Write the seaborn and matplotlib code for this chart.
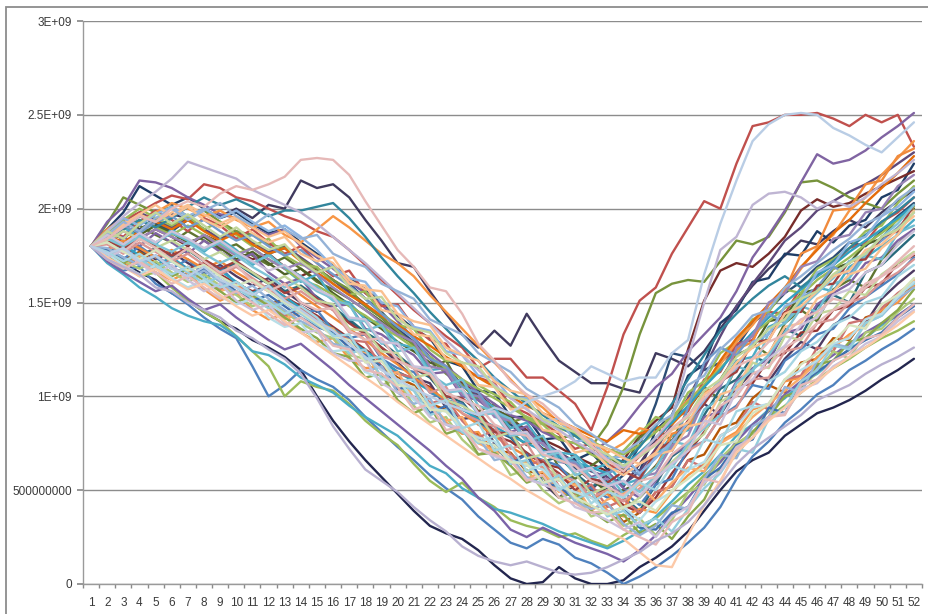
import pandas as pd
import matplotlib.pyplot as plt
import matplotlib.patches as mpatches
import seaborn as sns

# values in units of 1e8, weeks 1..52
weeks = list(range(1, 53))

red_top = [18.0, 18.6, 19.4, 19.8, 20.3, 20.7, 20.5, 21.3, 21.1, 20.6,
           20.4, 20.0, 19.6, 19.3, 18.8, 18.5, 17.8, 17.0, 16.2, 15.4,
           14.6, 13.9, 13.2, 12.6, 11.5, 12.0, 12.0, 11.0, 11.0, 10.3,
           9.6, 8.2, 10.5, 13.3, 15.1, 15.8, 17.6, 19.0, 20.4, 20.0,
           22.4, 24.4, 24.6, 25.0, 25.0, 25.1, 24.8, 24.4, 25.0, 24.6,
           25.0, 23.3]
lightblue_top = [18.0, 17.6, 17.9, 17.2, 17.5, 16.8, 16.4, 16.9, 16.2, 15.8,
                 15.4, 15.9, 15.1, 14.6, 14.0, 13.5, 12.8, 12.1, 11.4, 10.9,
                 10.4, 10.0, 9.6, 9.3, 9.0, 9.4, 9.1, 9.7, 10.0, 10.3,
                 10.8, 11.6, 11.2, 10.8, 11.0, 11.0, 12.3, 13.0, 16.5, 19.2,
                 21.5, 23.6, 24.5, 25.0, 25.1, 25.0, 24.3, 23.9, 23.4, 23.0,
                 23.8, 24.6]
olive = [18.0, 19.2, 20.6, 20.2, 19.8, 20.1, 19.6, 19.9, 19.3, 18.8,
         18.6, 18.1, 17.9, 17.3, 16.8, 16.2, 15.7, 14.8, 14.2, 13.5,
         12.7, 12.1, 11.2, 10.6, 9.8, 9.3, 8.6, 8.9, 8.2, 7.8,
         7.9, 7.3, 8.5, 10.5, 13.3, 15.5, 16.0, 16.2, 16.1, 17.2,
         18.3, 18.1, 18.5, 19.8, 21.4, 21.5, 21.1, 20.6, 20.3, 20.0,
         20.8, 21.5]
slate = [18.0, 18.7, 19.3, 18.9, 19.4, 19.7, 19.5, 19.9, 19.6, 20.0,
         19.5, 20.2, 20.0, 21.5, 21.1, 21.3, 20.6, 19.4, 18.3, 17.1,
         16.9, 15.6, 14.4, 13.3, 12.6, 13.5, 12.7, 14.4, 13.1, 11.9,
         11.3, 10.7, 10.7, 10.4, 10.2, 12.3, 12.0, 11.6, 12.4, 13.6,
         14.8, 15.9, 16.8, 17.5, 18.3, 18.1, 18.8, 19.4, 19.0, 19.8,
         20.4, 21.0]
navy_low = [18.0, 17.5, 17.1, 16.6, 16.2, 15.5, 15.1, 14.5, 14.0, 13.6,
            13.0, 12.6, 12.1, 11.4, 10.0, 8.7, 7.6, 6.6, 5.7, 4.8,
            3.9, 3.1, 2.7, 2.4, 1.8, 1.0, 0.3, 0.0, 0.1, 0.9,
            0.3, 0.0, 0.0, 0.2, 0.9, 1.4, 2.0, 2.8, 3.9, 5.0,
            6.0, 6.6, 7.0, 7.9, 8.5, 9.1, 9.4, 9.8, 10.3, 10.9,
            11.4, 12.0]
lavender_low = [18.0, 17.3, 16.9, 16.5, 15.8, 15.6, 15.0, 14.6, 14.2, 13.5,
                13.1, 12.5, 12.0, 11.2, 9.9, 8.4, 7.2, 6.1, 5.5, 4.9,
                4.1, 3.4, 2.8, 2.0, 1.5, 1.2, 1.0, 1.2, 0.9, 0.6,
                0.5, 0.6, 0.9, 1.3, 1.7, 2.3, 2.7, 3.3, 4.2, 5.3,
                6.4, 7.2, 7.8, 8.4, 9.0, 9.8, 10.2, 10.6, 11.2, 11.7,
                12.1, 12.6]
pink_top = [18.0, 18.4, 19.0, 19.6, 19.3, 20.0, 20.4, 20.1, 20.8, 21.2,
            21.0, 21.3, 21.7, 22.6, 22.7, 22.6, 21.8, 20.4, 19.1, 17.8,
            16.9, 15.8, 15.6, 14.4, 12.8, 11.9, 10.8, 10.1, 9.6, 8.8,
            8.2, 7.4, 6.6, 6.0, 6.9, 7.5, 8.3, 9.0, 9.9, 10.7,
            11.6, 12.0, 12.9, 13.3, 14.1, 14.5, 15.2, 15.0, 15.8, 16.4,
            16.9, 17.6]
purple_top = [18.0, 19.3, 20.1, 21.5, 21.4, 21.1, 20.6, 20.2, 19.7, 19.5,
              19.0, 18.6, 18.9, 18.0, 17.4, 16.8, 16.1, 15.5, 14.9, 14.0,
              13.1, 12.3, 11.6, 10.9, 10.2, 9.6, 9.0, 8.7, 8.1, 7.7,
              7.5, 7.0, 7.6, 8.4, 9.5, 10.5, 11.2, 12.4, 13.3, 14.2,
              15.6, 17.4, 18.6, 19.9, 21.4, 22.9, 22.4, 22.6, 23.1, 23.8,
              24.4, 25.1]
blue_low = [18.0, 17.4, 16.7, 16.9, 16.0, 15.5, 14.9, 14.2, 13.6, 13.1,
            11.6, 10.0, 10.6, 11.4, 10.9, 10.5, 9.8, 8.9, 8.1, 7.3,
            6.6, 5.8, 5.1, 4.5, 3.6, 2.9, 2.2, 1.9, 2.4, 2.1,
            1.4, 1.1, 0.6, 0.0, 0.4, 0.9, 1.5, 2.2, 3.0, 4.1,
            5.6, 6.8, 7.6, 8.6, 9.3, 10.1, 10.6, 11.4, 11.9, 12.5,
            13.0, 13.6]
green_low = [18.0, 17.7, 17.0, 16.4, 16.6, 15.8, 15.1, 14.5, 14.0, 13.2,
             12.4, 11.6, 10.0, 10.8, 10.5, 10.3, 9.6, 8.7, 8.0, 7.4,
             6.4, 5.5, 4.9, 5.4, 4.6, 4.1, 3.4, 3.1, 2.9, 2.5,
             2.7, 2.3, 2.0, 2.6, 3.1, 3.5, 4.2, 4.9, 5.8, 6.5,
             7.4, 8.1, 8.9, 9.5, 10.2, 10.9, 11.5, 12.0, 12.6, 13.1,
             13.5, 14.0]
cyan_low = [18.0, 17.1, 16.5, 15.8, 15.3, 14.7, 14.3, 14.0, 13.8, 13.2,
            12.4, 12.2, 11.7, 11.0, 10.6, 10.2, 9.5, 8.9, 8.4, 7.9,
            7.1, 6.3, 5.9, 5.1, 4.6, 4.0, 3.8, 3.5, 3.2, 2.8,
            2.5, 2.2, 1.9, 2.3, 2.8, 3.6, 4.4, 5.3, 6.0, 6.9,
            7.9, 8.5, 9.3, 9.9, 10.7, 11.2, 11.9, 12.5, 13.1, 13.8,
            14.3, 14.9]
purple_low = [18.0, 17.2, 16.6, 16.1, 15.6, 15.9, 15.2, 14.6, 14.9, 14.2,
              13.6, 13.0, 12.5, 12.8, 12.1, 11.4, 10.6, 9.9, 9.2, 8.5,
              7.8, 7.1, 6.3, 5.6, 4.6, 3.9, 2.9, 2.5, 3.0, 2.6,
              2.2, 1.9, 1.6, 1.2, 1.8, 2.6, 3.7, 4.6, 5.6, 6.5,
              7.6, 8.5, 9.2, 10.1, 10.8, 11.6, 12.2, 12.8, 13.4, 13.9,
              14.3, 14.9]

c01 = [18.0, 18.9, 19.5, 19.2, 19.8, 20.3, 20.0, 19.6, 19.9, 19.4,
       19.0, 19.3, 18.6, 18.2, 18.9, 19.6, 19.0, 18.3, 17.6, 17.1,
       16.4, 15.4, 14.5, 13.6, 12.7, 11.8, 10.9, 10.0, 9.4, 8.6,
       8.1, 7.7, 7.0, 7.5, 8.3, 8.1, 8.9, 9.8, 10.6, 11.7,
       12.9, 13.8, 14.9, 15.6, 16.8, 17.9, 18.6, 19.9, 20.6, 21.8,
       22.7, 23.6]
c02 = [18.0, 18.5, 19.0, 19.6, 19.2, 18.8, 19.4, 18.9, 18.4, 18.7,
       18.1, 17.6, 17.9, 17.3, 16.6, 16.9, 16.0, 15.2, 14.5, 13.6,
       12.9, 12.1, 11.4, 10.6, 9.9, 9.1, 8.5, 7.8, 7.2, 6.6,
       6.2, 5.5, 5.1, 5.8, 7.4, 9.6, 12.3, 12.1, 11.4, 11.8,
       12.6, 13.9, 14.6, 15.5, 16.1, 16.9, 17.4, 18.2, 18.0, 18.8,
       19.6, 20.3]
c03 = [18.0, 18.3, 17.8, 18.4, 18.9, 18.5, 18.0, 18.6, 18.2, 17.7,
       17.3, 17.6, 16.9, 16.4, 16.8, 16.2, 15.6, 14.9, 14.2, 13.4,
       12.8, 12.0, 11.3, 10.7, 10.1, 9.4, 8.8, 8.2, 7.7, 7.3,
       6.8, 6.4, 6.0, 6.6, 7.9, 8.7, 9.4, 12.5, 15.1, 16.7,
       17.1, 16.9, 17.6, 18.5, 19.9, 20.5, 20.1, 20.3, 20.8, 21.2,
       21.6, 22.0]
c04 = [18.0, 18.7, 18.4, 19.1, 18.6, 18.2, 18.8, 18.3, 17.8, 18.1,
       17.5, 17.0, 17.4, 16.8, 16.1, 15.7, 15.2, 14.6, 14.0, 13.3,
       12.8, 11.5, 11.9, 10.4, 9.2, 9.6, 8.1, 7.4, 7.8, 6.2,
       5.6, 6.3, 6.9, 6.1, 7.8, 8.4, 7.6, 9.3, 10.5, 9.8,
       11.6, 12.8, 12.2, 13.9, 14.6, 14.0, 15.7, 16.2, 15.8, 17.3,
       18.1, 18.9]
c05 = [18.0, 17.6, 18.2, 17.8, 17.3, 17.7, 17.1, 16.6, 17.0, 16.4,
       15.9, 16.3, 15.6, 15.0, 14.5, 14.8, 14.0, 13.3, 12.6, 11.8,
       11.0, 10.7, 9.4, 8.8, 8.9, 7.5, 6.6, 6.9, 5.4, 4.6,
       5.3, 5.0, 5.9, 5.2, 6.4, 7.7, 7.1, 8.5, 9.6, 9.0,
       10.4, 11.3, 10.8, 12.0, 12.9, 12.5, 13.8, 14.3, 13.9, 15.2,
       16.0, 16.7]
c06 = [18.0, 18.4, 18.0, 17.5, 17.9, 17.4, 17.8, 17.2, 16.7, 17.1,
       16.5, 16.0, 15.6, 15.9, 15.3, 14.7, 14.1, 13.4, 12.9, 12.2,
       11.5, 11.0, 10.0, 9.7, 8.6, 8.2, 7.8, 6.9, 6.5, 6.8,
       5.9, 5.2, 5.5, 4.6, 3.9, 5.3, 6.8, 7.4, 9.0, 10.4,
       10.9, 12.1, 11.8, 13.6, 13.2, 14.8, 15.4, 15.0, 16.6, 17.0,
       17.8, 18.6]
c07 = [18.0, 17.8, 17.3, 17.7, 17.1, 16.5, 16.9, 16.3, 15.8, 16.1,
       15.5, 14.9, 15.2, 14.6, 14.0, 13.5, 12.9, 12.3, 11.6, 11.0,
       10.6, 9.6, 9.3, 8.2, 8.0, 7.1, 7.0, 6.0, 5.9, 5.0,
       4.9, 4.0, 4.3, 3.3, 3.8, 4.9, 5.2, 6.6, 6.9, 8.3,
       8.6, 9.9, 10.6, 10.2, 11.8, 12.0, 13.1, 13.0, 14.2, 14.5,
       15.4, 15.9]
c08 = [18.0, 18.6, 19.1, 18.7, 19.3, 19.6, 19.0, 19.4, 18.8, 18.3,
       18.6, 18.0, 17.5, 17.8, 17.1, 16.5, 15.9, 15.2, 14.4, 13.7,
       13.1, 12.0, 11.6, 10.5, 10.2, 9.0, 8.8, 7.7, 7.5, 6.6,
       6.5, 5.6, 5.9, 6.3, 5.8, 6.9, 7.2, 9.4, 11.8, 12.6,
       12.2, 13.3, 14.4, 13.9, 15.2, 15.8, 16.9, 16.5, 17.6, 18.3,
       19.0, 19.8]
c09 = [18.0, 17.4, 17.9, 17.2, 16.8, 17.3, 16.7, 16.2, 15.7, 16.0,
       15.4, 14.8, 14.3, 14.7, 14.1, 13.5, 13.0, 12.9, 11.6, 11.2,
       11.0, 9.6, 9.9, 8.7, 7.8, 8.2, 6.9, 6.3, 6.6, 5.2,
       4.8, 5.3, 4.1, 4.5, 3.8, 4.9, 5.2, 6.6, 6.2, 7.9,
       8.4, 9.7, 9.3, 10.9, 11.1, 12.6, 12.4, 13.9, 14.1, 14.7,
       15.5, 16.1]
c10 = [18.0, 17.7, 17.2, 16.8, 17.2, 16.6, 16.1, 16.5, 15.9, 15.4,
       14.8, 15.1, 14.5, 13.9, 13.4, 13.1, 12.2, 12.0, 10.6, 10.9,
       9.5, 8.6, 8.9, 7.7, 6.9, 7.2, 5.8, 6.1, 5.0, 4.3,
       4.7, 3.6, 3.9, 3.1, 3.5, 2.6, 3.4, 4.9, 5.3, 6.7,
       7.5, 8.0, 9.3, 9.1, 10.4, 11.3, 12.4, 12.0, 13.4, 13.6,
       14.5, 15.2]
c11 = [18.0, 18.2, 18.8, 18.4, 18.9, 18.5, 18.1, 18.6, 18.0, 17.5,
       17.9, 17.3, 16.8, 17.1, 16.5, 15.8, 15.2, 14.6, 13.9, 13.3,
       12.9, 11.6, 11.4, 10.1, 10.0, 8.9, 8.7, 7.6, 7.5, 6.5,
       6.4, 5.5, 5.6, 4.6, 5.7, 5.9, 7.4, 7.9, 9.8, 10.5,
       12.6, 13.2, 15.0, 15.5, 16.9, 17.2, 18.4, 18.6, 19.8, 20.0,
       21.2, 21.8]
c12 = [18.0, 18.5, 18.1, 18.6, 18.2, 18.7, 18.3, 17.8, 18.2, 17.6,
       17.1, 17.5, 16.9, 16.4, 15.8, 15.1, 14.9, 13.5, 13.8, 12.4,
       12.6, 11.2, 10.6, 10.9, 9.5, 9.2, 8.8, 7.6, 7.9, 6.5,
       6.8, 5.6, 5.9, 4.8, 5.5, 6.2, 7.6, 7.4, 9.3, 9.9,
       11.6, 11.3, 13.4, 13.9, 14.8, 14.5, 16.0, 16.3, 17.5, 17.3,
       18.7, 19.1]
c13 = [18.0, 17.6, 17.1, 17.5, 16.9, 16.4, 16.8, 16.2, 15.6, 15.9,
       15.3, 14.7, 14.1, 14.5, 13.9, 13.6, 12.5, 12.3, 11.0, 11.3,
       9.9, 9.6, 8.7, 8.9, 7.5, 7.1, 6.8, 5.6, 6.0, 4.9,
       5.3, 3.9, 4.5, 4.8, 5.3, 4.4, 5.4, 6.2, 6.0, 7.5,
       8.0, 8.9, 9.6, 10.3, 11.0, 11.8, 12.7, 13.2, 13.9, 14.4,
       15.3, 16.2]
c14 = [18.0, 17.9, 17.4, 17.0, 17.5, 16.9, 16.3, 16.7, 16.1, 15.5,
       15.9, 15.2, 14.6, 14.0, 13.6, 12.8, 12.6, 11.3, 11.6, 10.2,
       9.6, 9.9, 8.5, 8.1, 7.8, 6.6, 6.8, 5.7, 5.3, 5.6,
       4.4, 4.0, 4.3, 3.2, 2.6, 3.1, 4.2, 4.0, 5.6, 6.9,
       6.7, 8.4, 8.9, 10.5, 10.2, 11.9, 12.8, 12.6, 13.9, 14.3,
       15.2, 15.8]
c15 = [18.0, 18.1, 17.6, 18.2, 17.7, 17.2, 17.6, 17.0, 16.5, 16.9,
       16.3, 15.7, 15.2, 15.6, 15.0, 14.6, 13.4, 13.3, 12.1, 11.9,
       11.5, 10.2, 10.5, 9.1, 8.7, 8.4, 7.2, 7.5, 6.1, 5.8,
       5.5, 4.6, 5.0, 4.4, 5.1, 5.6, 6.4, 7.1, 7.6, 8.9,
       9.4, 10.9, 11.0, 12.4, 12.6, 13.9, 14.1, 15.0, 15.3, 16.1,
       16.6, 17.3]
c16 = [18.0, 18.3, 18.8, 18.4, 17.9, 18.3, 17.8, 17.3, 17.7, 17.1,
       16.6, 16.0, 16.4, 15.8, 15.1, 14.9, 13.6, 13.5, 12.4, 12.3,
       11.0, 11.2, 9.8, 9.5, 9.0, 7.8, 8.1, 6.7, 6.9, 5.5,
       5.9, 4.8, 5.2, 4.0, 4.6, 5.7, 6.5, 7.3, 8.0, 9.7,
       10.2, 11.8, 11.5, 13.2, 13.0, 14.4, 14.6, 15.6, 15.4, 16.5,
       17.1, 17.7]
c17 = [18.0, 17.5, 17.9, 17.3, 16.8, 17.2, 16.6, 16.0, 16.4, 15.8,
       15.2, 14.7, 15.0, 14.4, 13.8, 13.3, 12.3, 12.5, 11.0, 10.7,
       10.3, 9.0, 9.3, 8.1, 7.5, 7.9, 6.4, 6.6, 5.3, 5.8,
       4.5, 4.9, 3.6, 3.9, 3.1, 3.5, 2.8, 4.0, 5.1, 5.9,
       7.2, 7.0, 8.8, 9.4, 10.8, 11.4, 12.7, 12.5, 13.9, 14.3,
       15.4, 16.0]
c18 = [18.0, 18.6, 19.2, 19.7, 19.3, 19.8, 20.2, 19.7, 19.2, 19.6,
       19.0, 18.5, 18.8, 18.1, 17.5, 17.1, 16.0, 15.9, 14.6, 14.4,
       13.3, 13.2, 12.0, 11.8, 10.6, 10.5, 9.3, 9.4, 8.2, 8.1,
       7.0, 7.2, 6.3, 5.8, 6.4, 6.9, 7.1, 8.4, 8.6, 10.1,
       10.4, 12.0, 12.3, 13.7, 13.9, 15.2, 15.6, 16.5, 16.8, 17.9,
       18.6, 19.9]
c19 = [18.0, 18.8, 19.6, 20.3, 20.9, 21.6, 22.5, 22.2, 21.9, 21.6,
       21.0, 20.6, 20.2, 19.8, 19.2, 18.5, 17.8, 17.1, 16.3, 15.5,
       14.7, 13.9, 13.0, 12.2, 11.4, 10.6, 9.9, 9.3, 8.7, 8.2,
       7.6, 7.1, 6.6, 6.2, 6.9, 7.8, 8.8, 12.0, 15.0, 17.8,
       18.5, 20.2, 20.8, 20.9, 20.6, 20.0, 20.4, 20.1, 20.6, 21.3,
       21.9, 22.6]
c20 = [18.0, 18.4, 18.0, 18.5, 18.1, 17.7, 18.2, 17.6, 17.1, 17.5,
       16.9, 16.4, 15.8, 16.2, 15.6, 15.2, 14.1, 14.0, 12.8, 12.9,
       11.5, 11.4, 10.2, 10.3, 9.0, 9.1, 7.9, 8.0, 6.8, 7.0,
       5.8, 6.1, 5.3, 5.5, 4.9, 5.8, 6.2, 7.5, 8.3, 9.0,
       10.7, 11.4, 12.2, 13.4, 14.7, 15.5, 16.3, 17.2, 17.6, 18.5,
       19.2, 20.2]
c21 = [18.0, 18.9, 19.8, 21.2, 20.7, 20.2, 20.6, 20.0, 19.5, 19.8,
       19.2, 18.7, 18.9, 18.2, 17.6, 17.0, 16.3, 15.7, 15.0, 14.3,
       13.6, 13.1, 11.9, 11.6, 10.3, 10.2, 8.9, 8.9, 7.7, 7.8,
       6.6, 7.0, 6.1, 6.6, 6.0, 8.2, 9.0, 11.1, 11.7, 13.9,
       14.6, 16.1, 16.3, 17.6, 17.5, 18.8, 18.2, 19.1, 19.4, 20.6,
       21.0, 22.4]
c22 = [18.0, 17.6, 17.9, 17.4, 17.8, 17.2, 16.8, 17.1, 16.5, 16.0,
       15.6, 15.9, 15.3, 14.8, 14.3, 13.7, 13.1, 12.5, 11.9, 11.3,
       10.9, 10.5, 9.6, 9.3, 8.9, 7.9, 7.6, 7.0, 6.4, 6.2,
       5.4, 5.0, 4.9, 4.2, 3.8, 4.6, 5.9, 7.0, 8.1, 9.3,
       10.5, 10.7, 12.0, 12.3, 13.4, 13.5, 14.6, 14.8, 15.8, 16.0,
       17.1, 17.5]
c23 = [18.0, 18.5, 19.0, 18.6, 19.1, 18.7, 18.2, 18.5, 17.9, 17.3,
       17.7, 17.1, 16.5, 16.8, 16.2, 15.5, 14.9, 14.2, 13.6, 12.9,
       12.4, 11.8, 11.5, 10.6, 9.8, 9.3, 8.9, 8.0, 7.2, 7.0,
       6.5, 5.6, 4.9, 5.0, 5.4, 6.3, 7.4, 8.5, 9.8, 10.9,
       12.2, 12.6, 14.0, 14.2, 15.5, 15.7, 16.8, 17.1, 18.1, 18.4,
       19.5, 20.0]
c24 = [18.0, 17.8, 18.3, 17.9, 17.4, 17.8, 17.3, 16.8, 17.2, 16.6,
       16.1, 15.6, 16.0, 15.4, 14.8, 14.2, 13.6, 13.0, 12.3, 11.7,
       11.0, 10.4, 9.8, 9.1, 8.5, 7.9, 7.3, 6.8, 6.2, 5.7,
       5.3, 4.6, 4.8, 4.0, 5.5, 6.2, 8.0, 8.3, 10.2, 10.6,
       12.5, 12.9, 14.9, 15.6, 17.6, 18.0, 19.9, 20.0, 21.3, 21.5,
       22.8, 23.2]
c25 = [18.0, 17.3, 16.8, 17.2, 16.6, 16.0, 16.4, 15.8, 15.2, 15.6,
       15.0, 14.4, 13.8, 14.2, 13.6, 12.7, 12.5, 11.4, 11.2, 10.5,
       9.3, 9.6, 8.2, 8.4, 7.2, 6.9, 6.6, 5.5, 5.8, 4.6,
       4.3, 3.8, 3.9, 2.9, 2.5, 2.1, 3.3, 3.8, 5.6, 5.4,
       7.2, 7.8, 8.9, 9.0, 10.6, 10.9, 11.9, 12.3, 13.1, 13.3,
       14.2, 14.9]
c26 = [18.0, 18.2, 17.7, 17.3, 17.8, 17.2, 16.7, 17.0, 16.4, 15.9,
       16.2, 15.6, 15.0, 14.5, 13.9, 13.2, 13.0, 11.8, 11.9, 10.6,
       10.5, 9.3, 9.2, 8.4, 7.6, 7.4, 6.5, 6.4, 5.4, 5.6,
       4.6, 4.2, 3.7, 4.1, 4.4, 3.9, 5.0, 5.6, 6.3, 7.4,
       7.6, 9.1, 9.6, 10.9, 11.7, 12.3, 12.9, 13.8, 13.6, 14.9,
       15.4, 16.3]
c27 = [18.0, 18.6, 18.1, 18.7, 18.2, 18.8, 18.4, 17.9, 18.3, 17.7,
       17.2, 16.7, 17.0, 16.3, 15.7, 15.3, 14.2, 14.1, 12.9, 12.8,
       11.6, 11.5, 10.3, 10.4, 9.1, 9.2, 8.0, 8.1, 7.0, 7.1,
       6.0, 6.2, 5.2, 5.5, 4.7, 5.6, 6.4, 7.1, 8.7, 8.5,
       10.3, 10.9, 12.0, 12.7, 13.8, 14.2, 15.4, 15.7, 16.6, 17.0,
       18.1, 18.8]
c28 = [18.0, 17.7, 17.2, 17.6, 17.0, 16.5, 16.9, 16.3, 15.8, 16.1,
       15.5, 15.0, 14.4, 14.8, 14.2, 13.2, 13.3, 12.0, 12.1, 10.8,
       10.9, 9.5, 9.8, 8.3, 8.6, 7.1, 7.4, 6.0, 6.4, 5.0,
       5.5, 4.3, 4.9, 4.6, 5.4, 5.0, 6.3, 6.0, 7.7, 7.5,
       9.2, 9.5, 10.8, 11.3, 12.4, 12.9, 13.8, 14.2, 15.0, 15.3,
       16.4, 17.0]
c29 = [18.0, 17.4, 16.9, 16.4, 16.8, 16.2, 15.7, 16.0, 15.4, 14.8,
       14.3, 14.6, 14.0, 13.4, 12.8, 12.2, 11.6, 11.0, 10.4, 9.7,
       9.1, 8.5, 7.9, 7.3, 6.7, 6.1, 5.6, 5.0, 4.5, 4.0,
       3.6, 3.2, 2.8, 2.4, 1.7, 1.0, 0.9, 2.6, 4.2, 5.5,
       7.0, 7.8, 8.7, 9.4, 10.2, 10.8, 11.5, 12.1, 12.6, 13.2,
       13.8, 14.5]
c30 = [18.0, 18.8, 19.5, 19.1, 19.7, 20.1, 19.6, 20.0, 19.5, 19.9,
       19.3, 18.8, 19.1, 18.5, 17.8, 16.9, 16.3, 16.1, 15.0, 14.8,
       13.7, 13.5, 12.4, 12.2, 11.1, 11.0, 9.9, 9.9, 8.7, 8.8,
       7.6, 7.7, 6.7, 6.8, 5.9, 6.7, 7.6, 8.6, 9.8, 10.9,
       11.5, 12.9, 13.3, 14.8, 15.2, 16.6, 17.0, 18.2, 18.5, 19.6,
       20.1, 20.9]
c31 = [18.0, 18.4, 18.9, 19.4, 19.0, 19.5, 20.1, 20.6, 20.2, 20.5,
       20.1, 19.6, 19.9, 19.9, 20.1, 20.3, 19.5, 18.5, 17.4, 16.4,
       15.5, 14.5, 13.6, 12.7, 11.9, 11.0, 10.3, 9.6, 9.0, 8.4,
       7.9, 7.3, 6.8, 6.5, 7.3, 8.4, 9.6, 10.9, 12.2, 13.5,
       14.4, 15.2, 15.9, 16.4, 15.8, 16.5, 17.2, 17.9, 18.6, 19.3,
       19.9, 20.6]
c32 = [18.0, 18.3, 17.9, 18.4, 18.0, 17.5, 17.9, 17.3, 16.8, 17.2,
       16.6, 16.1, 15.5, 15.8, 15.2, 14.6, 13.9, 13.3, 12.6, 12.0,
       11.5, 11.1, 10.0, 9.9, 9.2, 8.1, 8.0, 6.9, 6.5, 5.9,
       5.0, 5.6, 5.4, 6.0, 5.6, 7.1, 7.6, 8.7, 9.6, 10.8,
       11.3, 12.9, 13.0, 14.5, 14.5, 15.9, 16.0, 17.2, 17.3, 18.5,
       18.8, 20.2]
c33 = [18.0, 17.5, 17.1, 17.6, 17.0, 16.4, 16.8, 16.2, 15.6, 15.0,
       15.4, 14.8, 14.2, 13.6, 13.1, 12.3, 12.1, 11.0, 11.2, 9.8,
       9.1, 9.5, 8.0, 8.3, 6.9, 7.0, 6.3, 5.4, 5.7, 4.6,
       4.9, 3.9, 3.3, 3.7, 2.7, 3.2, 2.4, 3.6, 4.5, 6.2,
       6.8, 8.1, 8.9, 10.0, 10.3, 11.7, 11.9, 12.9, 13.1, 13.9,
       14.6, 15.7]
c34 = [18.0, 18.5, 19.2, 19.8, 19.4, 19.0, 19.5, 18.9, 18.4, 18.8,
       18.2, 17.7, 18.0, 17.4, 16.8, 16.2, 15.5, 14.8, 14.2, 13.5,
       12.8, 12.0, 11.3, 10.6, 10.0, 9.3, 8.7, 8.1, 7.6, 7.0,
       6.5, 6.0, 5.7, 5.3, 6.0, 7.2, 8.5, 9.9, 11.5, 13.2,
       14.8, 16.0, 17.1, 18.3, 19.0, 19.9, 20.4, 20.9, 21.3, 21.8,
       22.4, 23.0]
c35 = [18.0, 17.8, 17.4, 17.0, 17.5, 16.9, 16.4, 16.8, 16.2, 15.6,
       15.1, 15.4, 14.8, 14.2, 13.7, 13.4, 12.6, 12.2, 11.6, 10.4,
       10.5, 9.1, 9.5, 8.1, 7.6, 7.4, 6.4, 6.9, 5.4, 5.2,
       4.5, 4.9, 3.7, 4.1, 3.0, 2.9, 3.8, 4.1, 5.6, 6.2,
       7.4, 7.7, 9.4, 9.1, 10.6, 11.3, 11.9, 12.5, 13.0, 13.4,
       14.2, 14.8]
c36 = [18.0, 18.6, 18.2, 18.8, 19.3, 18.9, 19.4, 18.8, 18.3, 18.7,
       18.1, 17.6, 17.9, 17.2, 16.6, 16.0, 15.4, 14.9, 14.3, 13.8,
       13.2, 12.7, 12.1, 11.6, 11.0, 10.5, 10.0, 9.5, 9.1, 8.7,
       8.3, 7.9, 7.6, 8.2, 8.0, 8.3, 8.5, 9.4, 10.5, 11.9,
       13.1, 14.0, 14.9, 15.8, 16.9, 17.8, 18.7, 19.4, 20.3, 21.1,
       21.9, 22.8]
c37 = [18.0, 18.3, 18.9, 19.4, 19.0, 18.6, 19.1, 18.6, 18.1, 17.6,
       17.9, 17.3, 16.8, 16.2, 15.9, 15.4, 14.8, 14.3, 13.7, 13.2,
       12.6, 12.1, 11.5, 10.9, 10.4, 9.9, 9.4, 8.9, 8.6, 8.3,
       8.0, 7.6, 7.2, 6.9, 7.4, 8.1, 8.9, 9.7, 10.6, 11.5,
       12.4, 13.3, 14.0, 14.7, 15.4, 16.2, 16.8, 17.4, 18.1, 18.7,
       19.4, 20.1]
c38 = [18.0, 17.6, 18.1, 17.5, 17.0, 17.4, 16.8, 16.3, 16.7, 16.1,
       15.5, 15.9, 15.3, 14.7, 14.1, 13.6, 13.0, 12.4, 11.9, 11.3,
       10.8, 10.3, 9.8, 9.3, 8.8, 8.4, 7.9, 7.5, 7.1, 6.8,
       6.5, 6.2, 5.9, 6.3, 7.0, 7.8, 8.6, 9.5, 10.5, 11.4,
       12.5, 13.4, 14.2, 15.0, 15.7, 16.4, 17.0, 17.7, 18.3, 18.9,
       19.5, 20.2]
d01 = [18.0, 18.9, 18.5, 19.3, 19.9, 19.4, 18.8, 19.5, 19.1, 18.4,
       18.9, 18.2, 17.6, 18.0, 17.1, 16.4, 16.7, 15.5, 14.8, 14.9,
       13.7, 13.0, 12.8, 11.6, 11.0, 10.7, 9.5, 9.1, 8.6, 8.0,
       7.2, 7.5, 6.4, 6.0, 6.8, 7.5, 8.8, 9.2, 10.9, 11.3,
       12.8, 13.0, 14.5, 14.4, 15.8, 16.4, 17.0, 17.9, 18.2, 19.3,
       19.8, 20.6]
d02 = [18.0, 18.3, 19.0, 18.5, 18.1, 18.9, 18.3, 17.7, 18.4, 17.8,
       17.0, 17.6, 16.8, 16.1, 16.5, 15.2, 15.0, 14.1, 13.9, 12.8,
       12.6, 11.4, 11.5, 10.2, 10.0, 9.4, 8.3, 8.6, 7.4, 7.0,
       6.9, 6.1, 6.4, 5.3, 5.6, 6.8, 7.9, 8.2, 9.8, 10.6,
       11.9, 12.1, 13.7, 14.1, 15.0, 15.8, 15.6, 16.9, 17.4, 18.0,
       18.6, 19.4]
d03 = [18.0, 18.7, 19.4, 20.0, 19.5, 19.1, 19.6, 18.9, 19.3, 18.6,
       18.0, 18.4, 17.5, 17.0, 16.9, 16.0, 15.4, 15.6, 14.4, 13.8,
       13.6, 12.5, 11.9, 11.8, 10.6, 10.1, 9.7, 8.8, 8.5, 7.7,
       7.5, 6.9, 6.5, 7.1, 8.0, 8.9, 8.6, 10.2, 10.8, 12.3,
       12.9, 14.1, 14.5, 15.7, 15.5, 16.8, 17.3, 17.9, 18.8, 19.1,
       20.3, 21.2]
d04 = [18.0, 17.5, 16.9, 17.4, 16.6, 16.2, 16.6, 15.7, 15.1, 15.5,
       14.6, 14.1, 14.4, 13.4, 12.9, 13.1, 12.0, 11.5, 11.6, 10.4,
       9.9, 9.7, 8.6, 8.0, 8.1, 6.9, 6.4, 6.5, 5.4, 5.0,
       4.6, 4.9, 3.9, 3.6, 4.0, 3.8, 4.9, 5.8, 6.4, 7.6,
       8.1, 9.3, 9.6, 10.8, 11.0, 12.1, 12.6, 13.3, 13.8, 14.6,
       15.0, 15.9]
d05 = [18.0, 17.8, 18.5, 18.0, 18.7, 18.2, 17.6, 18.3, 17.7, 17.2,
       17.6, 16.6, 16.0, 16.3, 15.2, 14.8, 14.9, 13.6, 13.3, 12.7,
       12.2, 11.2, 11.3, 10.0, 9.8, 9.1, 8.1, 8.4, 7.1, 6.9,
       6.5, 5.7, 6.0, 5.1, 4.6, 5.5, 6.9, 7.4, 8.9, 9.2,
       10.8, 11.5, 12.0, 13.4, 13.6, 14.9, 15.5, 16.0, 17.1, 17.4,
       18.3, 18.9]
d06 = [18.0, 17.7, 17.3, 18.0, 17.4, 16.8, 17.3, 16.5, 16.9, 16.0,
       15.4, 15.9, 15.0, 14.4, 14.6, 13.5, 13.1, 13.3, 12.0, 11.5,
       11.3, 10.2, 9.8, 9.6, 8.5, 8.1, 7.9, 6.9, 6.6, 6.3,
       5.4, 5.1, 4.6, 4.9, 4.2, 5.3, 5.6, 7.2, 7.6, 8.9,
       9.5, 10.6, 10.4, 11.9, 12.5, 13.3, 13.6, 14.7, 15.3, 15.9,
       16.5, 17.4]
d07 = [18.0, 18.4, 19.1, 19.7, 20.2, 19.6, 20.1, 19.4, 19.0, 19.5,
       18.7, 18.2, 18.5, 17.6, 17.2, 17.4, 16.2, 15.7, 15.6, 14.4,
       14.0, 13.8, 12.6, 12.2, 11.9, 10.8, 10.3, 10.1, 9.1, 8.6,
       8.3, 7.5, 7.2, 6.7, 6.4, 7.0, 8.2, 8.6, 10.1, 10.7,
       11.8, 12.6, 13.0, 14.4, 14.8, 15.6, 16.4, 16.7, 17.8, 18.1,
       18.9, 19.6]
d08 = [18.0, 17.6, 17.0, 16.5, 17.0, 16.3, 15.8, 16.2, 15.3, 14.9,
       15.2, 14.2, 13.7, 13.9, 12.8, 12.4, 12.5, 11.3, 10.9, 10.9,
       9.8, 9.4, 9.2, 8.2, 7.8, 7.6, 6.6, 6.3, 6.1, 5.2,
       4.9, 4.6, 3.8, 4.1, 3.4, 4.4, 4.9, 6.1, 6.5, 7.9,
       8.4, 9.4, 9.6, 10.9, 11.4, 11.9, 12.8, 13.1, 14.1, 14.4,
       15.3, 16.1]
d09 = [18.0, 18.2, 17.7, 18.4, 17.9, 17.3, 17.9, 17.2, 16.6, 17.0,
       16.1, 15.6, 16.0, 15.0, 14.6, 14.7, 13.5, 13.0, 13.1, 11.9,
       11.5, 11.2, 10.2, 9.8, 9.5, 8.5, 8.1, 7.9, 6.9, 6.6,
       6.3, 5.5, 5.2, 4.7, 5.5, 5.7, 6.9, 7.6, 8.4, 9.5,
       10.0, 11.2, 11.6, 12.6, 13.1, 13.9, 14.6, 15.0, 16.0, 16.4,
       17.2, 18.0]
d10 = [18.0, 18.6, 19.3, 18.8, 19.5, 20.0, 19.4, 19.9, 20.3, 19.6,
       19.1, 19.7, 18.9, 18.4, 18.6, 17.6, 17.2, 16.9, 16.0, 15.6,
       15.2, 14.1, 13.7, 13.3, 12.3, 11.8, 11.3, 10.4, 9.9, 9.4,
       8.5, 8.0, 7.4, 7.0, 7.6, 8.5, 9.0, 10.6, 11.1, 12.5,
       13.3, 14.3, 14.6, 15.8, 16.4, 17.1, 17.8, 18.4, 19.2, 19.6,
       20.5, 21.1]
d11 = [18.0, 17.4, 17.8, 17.1, 16.5, 17.0, 16.2, 15.6, 16.0, 15.1,
       14.6, 14.9, 13.9, 13.4, 13.5, 12.3, 11.9, 11.9, 10.7, 10.2,
       10.0, 8.9, 8.5, 8.3, 7.2, 6.8, 6.6, 5.6, 5.3, 5.0,
       4.1, 3.8, 3.4, 2.9, 3.3, 2.5, 3.6, 4.1, 5.4, 6.0,
       7.3, 7.8, 8.9, 9.1, 10.4, 10.7, 11.6, 12.1, 12.8, 13.2,
       14.0, 14.6]
d12 = [18.0, 18.8, 18.4, 19.2, 19.8, 19.2, 19.7, 19.1, 18.5, 19.0,
       18.3, 17.8, 18.1, 17.2, 16.6, 16.9, 15.8, 15.2, 15.3, 14.1,
       13.6, 13.4, 12.3, 11.8, 11.6, 10.5, 10.0, 9.8, 8.8, 8.4,
       8.1, 7.3, 6.9, 6.3, 6.8, 7.4, 8.3, 8.9, 10.3, 10.9,
       12.1, 12.7, 13.6, 14.1, 15.2, 15.6, 16.5, 17.1, 17.6, 18.5,
       18.9, 19.8]

# draw order follows the series list; pale colours last so they sit on top
series = {
    'slate': (slate, '#403a5e'),
    'navy_low': (navy_low, '#23264f'),
    'c21': (c21, '#1f3d66'),
    'c02': (c02, '#2c4d75'),
    'c03': (c03, '#772c2a'),
    'c04': (c04, '#5f7530'),
    'c05': (c05, '#4d3b62'),
    'c06': (c06, '#276a7c'),
    'c07': (c07, '#b65708'),
    'c22': (c22, '#953735'),
    'c23': (c23, '#4f6228'),
    'c34': (c34, '#5f497a'),
    'red_top': (red_top, '#c0504d'),
    'olive': (olive, '#77933c'),
    'purple_top': (purple_top, '#8064a2'),
    'blue_low': (blue_low, '#4f81bd'),
    'green_low': (green_low, '#9bbb59'),
    'cyan_low': (cyan_low, '#4bacc6'),
    'purple_low': (purple_low, '#7b63a8'),
    'd01': (d01, '#c0504d'),
    'd02': (d02, '#4bacc6'),
    'd03': (d03, '#9bbb59'),
    'd05': (d05, '#8064a2'),
    'd06': (d06, '#4f81bd'),
    'd04': (d04, '#f79646'),
    'c01': (c01, '#f79646'),
    'c36': (c36, '#e46c0a'),
    'c37': (c37, '#9bbb59'),
    'c38': (c38, '#31a0c0'),
    'c31': (c31, '#31859c'),
    'c24': (c24, '#f08a3c'),
    'c08': (c08, '#729aca'),
    'c09': (c09, '#cd7371'),
    'c10': (c10, '#afc97a'),
    'c11': (c11, '#9983b5'),
    'c12': (c12, '#6fbdd1'),
    'c13': (c13, '#f9ab6b'),
    'c32': (c32, '#a0413e'),
    'c33': (c33, '#8aa84a'),
    'c35': (c35, '#3f6fae'),
    'c14': (c14, '#95b3d7'),
    'c15': (c15, '#d99694'),
    'c16': (c16, '#c3d69b'),
    'c17': (c17, '#93cddd'),
    'c18': (c18, '#fac090'),
    'c20': (c20, '#7fc3d6'),
    'c30': (c30, '#8db4e2'),
    'c19': (c19, '#bfb5d3'),
    'd07': (d07, '#fac090'),
    'd10': (d10, '#95b3d7'),
    'd12': (d12, '#c3d69b'),
    'd09': (d09, '#e6b9b8'),
    'd08': (d08, '#b7dee8'),
    'd11': (d11, '#ccc1da'),
    'c25': (c25, '#e6b9b8'),
    'c26': (c26, '#d7e4bd'),
    'c27': (c27, '#ccc1da'),
    'c28': (c28, '#a5d5e2'),
    'c29': (c29, '#fcc9a8'),
    'lavender_low': (lavender_low, '#b8b0d0'),
    'pink_top': (pink_top, '#e6b9b8'),
    'lightblue_top': (lightblue_top, '#b9cde5'),
}

y_ticks = [0, 5e8, 1e9, 1.5e9, 2e9, 2.5e9, 3e9]
y_labels = ['0', '500000000', '1E+09', '1.5E+09', '2E+09', '2.5E+09', '3E+09']

rows = []
for name, (vals, _) in series.items():
    for w, v in zip(weeks, vals):
        rows.append((name, w, v * 1e8))
df = pd.DataFrame(rows, columns=['series', 'week', 'value'])
palette = {name: col for name, (_, col) in series.items()}

sns.set_theme(style='white')
plt.rcParams['font.family'] = ['Liberation Sans', 'DejaVu Sans']

fig = plt.figure(figsize=(9.29, 6.14), dpi=100)
ax = fig.add_axes([83 / 929, 1 - 584 / 614, 839 / 929, 563 / 614])

sns.lineplot(data=df, x='week', y='value', hue='series', palette=palette,
             hue_order=list(series.keys()), legend=False, linewidth=1.7,
             ax=ax, zorder=3)

ax.set_xlim(0.5, 52.5)
ax.set_ylim(0, 3e9)
ax.set_xticks(weeks)
ax.set_xticklabels([str(w) for w in weeks], fontsize=8.5, color='#3a3a3a')
ax.set_xticks([w + 0.5 for w in range(0, 53)], minor=True)
ax.tick_params(axis='x', which='major', length=0, pad=9)
ax.tick_params(axis='x', which='minor', length=3, color='#8a8a8a', direction='out', bottom=True)
ax.set_yticks(y_ticks)
ax.set_yticklabels(y_labels, fontsize=8.5, color='#3a3a3a')
ax.tick_params(axis='y', length=4, color='#8a8a8a', direction='out', left=True, pad=4)
ax.set_xlabel('')
ax.set_ylabel('')

ax.yaxis.grid(True, color='#8c8c8c', linewidth=1.0, zorder=1)
ax.xaxis.grid(False)
ax.set_axisbelow(True)
for side in ['top', 'right']:
    ax.spines[side].set_visible(False)
for side in ['left', 'bottom']:
    ax.spines[side].set_color('#9a9a9a')
    ax.spines[side].set_linewidth(1.0)

# chart border like the Excel chart area
fig.add_artist(mpatches.Rectangle((6 / 929, -0.05), 1.1, 1.05 - 7 / 614,
                                  transform=fig.transFigure, fill=False,
                                  edgecolor='#8c8c8c', linewidth=1.3))

fig.savefig('out.png', dpi=100)
